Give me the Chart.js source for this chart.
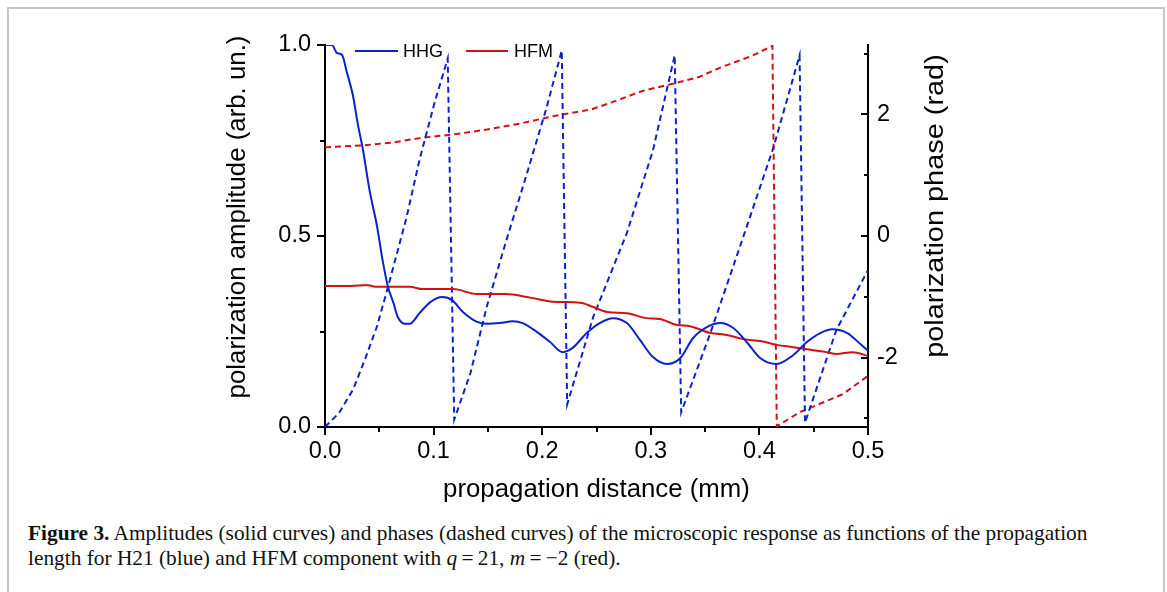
<!DOCTYPE html>
<html>
<head>
<meta charset="utf-8">
<script src="https://cdn.jsdelivr.net/npm/chart.js@4.4.0/dist/chart.umd.min.js"></script>
<style>
  html, body { margin: 0; padding: 0; background: #fff; }
  body { width: 1167px; height: 592px; position: relative; overflow: hidden; }
  #frame { position: absolute; left: 7px; top: 7px; width: 1154px; height: 700px; border: 2px solid #c6c6c6; }
  #plot { position: absolute; left: 0; top: 0; }
  #cap { position: absolute; left: 28px; top: 521px; font-family: 'Liberation Serif', 'Times New Roman', serif;
         font-size: 18px; line-height: 25px; white-space: nowrap; color: #111; }
</style>
</head>
<body>
<div id="frame"></div>
<canvas id="plot" width="1167" height="515"></canvas>
<div id="cap"><span id="l1"><b>Figure 3.</b> Amplitudes (solid curves) and phases (dashed curves) of the microscopic response as functions of the propagation</span><br>length for H21 (blue) and HFM component with <i>q</i>&#8201;=&#8201;21, <i>m</i>&#8201;=&#8201;&minus;2 (red).</div>
<script>
// Werte (Abstand in mm)
const distHHG = [0, 0.0064, 0.011, 0.0157, 0.020, 0.026, 0.030, 0.035, 0.041, 0.048, 0.053, 0.058, 0.063, 0.067,
    0.074, 0.078, 0.087, 0.097, 0.108, 0.117, 0.127, 0.140, 0.149, 0.161, 0.173, 0.182, 0.195, 0.207, 0.219,
    0.228, 0.241, 0.253, 0.265, 0.278, 0.290, 0.302, 0.315, 0.327, 0.339, 0.352, 0.364, 0.376, 0.389, 0.401,
    0.416, 0.431, 0.444, 0.456, 0.467, 0.481, 0.493, 0.5];
const ampHHG = [1.0, 1.0, 0.979, 0.974, 0.93, 0.864, 0.796, 0.725, 0.62, 0.524, 0.437, 0.367, 0.325, 0.288,
    0.27, 0.27, 0.298, 0.327, 0.34, 0.332, 0.301, 0.275, 0.27, 0.272, 0.277, 0.272, 0.249, 0.223, 0.196,
    0.207, 0.246, 0.272, 0.285, 0.272, 0.228, 0.183, 0.165, 0.18, 0.233, 0.262, 0.272, 0.259, 0.22, 0.18,
    0.165, 0.188, 0.223, 0.246, 0.256, 0.246, 0.217, 0.2];

const distHFM = [0, 0.02, 0.035, 0.04, 0.046, 0.078, 0.09, 0.118, 0.14, 0.166, 0.19, 0.21, 0.235, 0.247,
    0.26, 0.278, 0.296, 0.308, 0.324, 0.336, 0.355, 0.37, 0.385, 0.401, 0.416, 0.431, 0.447, 0.462, 0.471,
    0.486, 0.5];
const ampHFM = [0.369, 0.369, 0.371, 0.371, 0.367, 0.367, 0.361, 0.361, 0.348, 0.348, 0.338, 0.328, 0.325, 0.314,
    0.301, 0.298, 0.285, 0.283, 0.267, 0.264, 0.246, 0.241, 0.23, 0.225, 0.215, 0.209, 0.202, 0.196, 0.191,
    0.196, 0.186];

const distPhaseHHG = [0, 0.013, 0.026, 0.037, 0.048, 0.058, 0.075, 0.087, 0.101, 0.113, 0.119, 0.134, 0.149,
    0.167, 0.186, 0.204, 0.218, 0.223, 0.247, 0.278, 0.302, 0.322, 0.328, 0.355, 0.382, 0.413, 0.437, 0.442,
    0.471, 0.5];
const phaseHHG = [-3.14, -2.91, -2.52, -2.02, -1.48, -0.84, 0.3, 1.25, 2.2, 2.92, -3.02, -2.25, -1.16,
    -0.07, 1.03, 2.11, 3.05, -2.77, -1.33, 0.05, 1.41, 2.97, -2.9, -1.59, -0.18, 1.46, 2.97, -3.07,
    -1.54, -0.56];

const distPhaseHFM = [0, 0.035, 0.063, 0.087, 0.118, 0.149, 0.18, 0.21, 0.245, 0.269, 0.293, 0.324, 0.345,
    0.364, 0.394, 0.412, 0.416, 0.437, 0.477, 0.5];
const phaseHFM = [1.46, 1.49, 1.54, 1.61, 1.67, 1.75, 1.85, 1.97, 2.08, 2.23, 2.39, 2.52, 2.62,
    2.77, 2.97, 3.13, -3.13, -2.9, -2.6, -2.3];

// Achsenteilung
const distTicks = [0, 0.1, 0.2, 0.3, 0.4, 0.5];
const distMinor = [0.05, 0.15, 0.25, 0.35, 0.45];
const ampTicks = [0, 0.5, 1.0];
const ampMinor = [0.25, 0.75];
const phaseTicks = [-2, 0, 2];
const phaseMinor = [-3, -1, 1, 3];

const blue = '#0b22c6';
const red = '#d01212';
const sans = '"Liberation Sans", Arial, sans-serif';

function toPoints(xs, ys) {
    return xs.map((x, i) => ({x: x, y: ys[i]}));
}

// Striche, Achsentitel und Legende
const decor = {
    id: 'decor',
    afterDraw(chart) {
        const ctx = chart.ctx;
        const sx = chart.scales.x, sy = chart.scales.y, sp = chart.scales.y1;
        const a = chart.chartArea;
        ctx.save();
        ctx.strokeStyle = '#000';
        ctx.lineWidth = 2;
        const line = (x0, y0, x1, y1) => {
            ctx.beginPath();
            ctx.moveTo(x0, y0);
            ctx.lineTo(x1, y1);
            ctx.stroke();
        };
        distTicks.forEach(v => { const p = Math.round(sx.getPixelForValue(v)); line(p, a.bottom, p, a.bottom + 8); });
        distMinor.forEach(v => { const p = Math.round(sx.getPixelForValue(v)); line(p, a.bottom, p, a.bottom + 5); });
        ampTicks.forEach(v => { const p = Math.round(sy.getPixelForValue(v)); line(a.left - 8, p, a.left, p); });
        ampMinor.forEach(v => { const p = Math.round(sy.getPixelForValue(v)); line(a.left - 5, p, a.left, p); });
        phaseTicks.forEach(v => { const p = Math.round(sp.getPixelForValue(v)); line(a.right - 7, p, a.right, p); });
        phaseMinor.forEach(v => { const p = Math.round(sp.getPixelForValue(v)); line(a.right - 4, p, a.right, p); });

        ctx.fillStyle = '#000';
        ctx.font = '25.8px ' + sans;
        ctx.textAlign = 'center';
        ctx.textBaseline = 'middle';
        ctx.fillText('propagation distance (mm)', (a.left + a.right) / 2, 490);
        ctx.save();
        ctx.translate(238, 217);
        ctx.rotate(-Math.PI / 2);
        ctx.fillText('polarization amplitude (arb. un.)', 0, 0);
        ctx.restore();
        ctx.save();
        ctx.translate(936, 206);
        ctx.rotate(-Math.PI / 2);
        ctx.scale(1.12, 1);
        ctx.fillText('polarization phase (rad)', 0, 0);
        ctx.restore();

        // Legende
        ctx.font = '18px ' + sans;
        ctx.textAlign = 'left';
        ctx.strokeStyle = blue;
        line(355, 51, 398, 51);
        ctx.fillText('HHG', 403, 52);
        ctx.strokeStyle = red;
        line(466, 51, 508, 51);
        ctx.fillText('HFM', 514, 52);
        ctx.restore();
    }
};

const ctx = document.getElementById('plot');
new Chart(ctx, {
    type: 'line',
    data: {
        datasets: [
            {label: 'HHG', data: toPoints(distHHG, ampHHG), borderColor: blue, borderWidth: 2,
                yAxisID: 'y', cubicInterpolationMode: 'monotone'},
            {label: 'HFM', data: toPoints(distHFM, ampHFM), borderColor: red, borderWidth: 2,
                yAxisID: 'y', cubicInterpolationMode: 'monotone'},
            {label: 'HHG Phase', data: toPoints(distPhaseHHG, phaseHHG), borderColor: blue, borderWidth: 2,
                borderDash: [6, 4], yAxisID: 'y1', tension: 0},
            {label: 'HFM Phase', data: toPoints(distPhaseHFM, phaseHFM), borderColor: red, borderWidth: 2,
                borderDash: [6, 4], yAxisID: 'y1', tension: 0}
        ]
    },
    options: {
        responsive: false,
        animation: false,
        layout: {padding: {top: 45, left: 0, right: 0, bottom: 0}},
        elements: {point: {radius: 0}},
        plugins: {
            legend: {display: false},
            tooltip: {enabled: false}
        },
        scales: {
            x: {
                type: 'linear', min: 0, max: 0.5,
                afterBuildTicks: s => { s.ticks = distTicks.map(v => ({value: v})); },
                afterFit: s => { s.height = 88; },
                ticks: {callback: v => v.toFixed(1), color: '#000', font: {size: 23.5, family: sans},
                    padding: 10, maxRotation: 0, autoSkip: false},
                grid: {display: false, drawTicks: false},
                border: {display: true, color: '#000', width: 2}
            },
            y: {
                position: 'left', min: 0, max: 1,
                afterBuildTicks: s => { s.ticks = ampTicks.map(v => ({value: v})); },
                afterFit: s => { s.width = 325; },
                ticks: {callback: v => v.toFixed(1), color: '#000', font: {size: 23.5, family: sans}, padding: 14},
                grid: {display: false, drawTicks: false},
                border: {display: true, color: '#000', width: 2}
            },
            y1: {
                position: 'right', min: -Math.PI, max: Math.PI,
                afterBuildTicks: s => { s.ticks = phaseTicks.map(v => ({value: v})); },
                afterFit: s => { s.width = 299; },
                ticks: {callback: v => String(v), color: '#000', font: {size: 23.5, family: sans}, padding: 9},
                grid: {display: false, drawTicks: false},
                border: {display: true, color: '#000', width: 2}
            }
        }
    },
    plugins: [decor]
});

// Bildunterschrift auf Breite des Originals bringen
const l1 = document.getElementById('l1');
const cap = document.getElementById('cap');
const w = l1.getBoundingClientRect().width;
cap.style.fontSize = (18 * 1060 / w).toFixed(2) + 'px';
</script>
</body>
</html>
